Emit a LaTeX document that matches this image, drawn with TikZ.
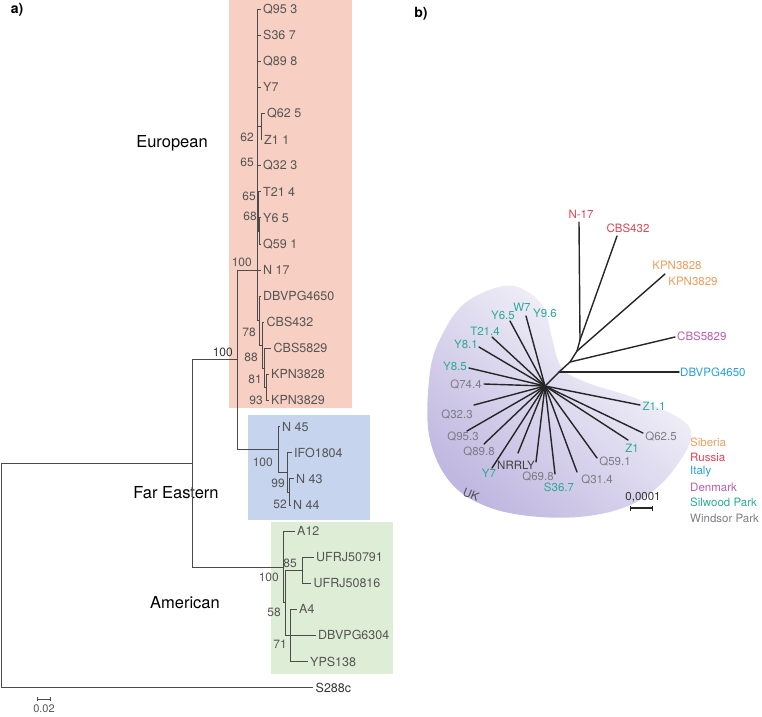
\documentclass[tikz,border=0pt]{standalone}
\usepackage{fontspec}
\setmainfont{TeX Gyre Heros}
\usetikzlibrary{arrows.meta}
\definecolor{europink}{RGB}{247,207,195}
\definecolor{fareblue}{RGB}{198,212,238}
\definecolor{amgreen}{RGB}{222,237,214}
\definecolor{treegray}{RGB}{75,75,75}
\definecolor{labgray}{RGB}{85,85,85}
\definecolor{siberia}{RGB}{229,160,95}
\definecolor{russia}{RGB}{220,70,85}
\definecolor{italy}{RGB}{40,160,215}
\definecolor{denmark}{RGB}{185,95,175}
\definecolor{silwood}{RGB}{45,170,150}
\definecolor{windsor}{RGB}{125,125,135}
\definecolor{ukhi}{RGB}{253,253,254}
\definecolor{uklo}{RGB}{192,184,224}

\begin{document}
\begin{tikzpicture}[
  x=1pt, y=-1pt,
  tree/.style={draw=treegray, line width=0.75pt},
  tip/.style={anchor=west, inner xsep=2.5pt, inner ysep=0pt, text=labgray, font=\fontsize{12.5}{13}\selectfont},
  boot/.style={anchor=east, inner sep=0pt, text=labgray, font=\fontsize{12}{12}\selectfont},
  clade/.style={inner sep=0pt, font=\fontsize{16.5}{17}\selectfont},
  branch/.style={draw=black!85, line width=1.4pt, line cap=round},
  strain/.style={inner sep=0pt, font=\fontsize{11.5}{12}\selectfont},
  panel/.style={inner sep=0pt, font=\bfseries\fontsize{14}{14}\selectfont}
]
\useasboundingbox (0,0) rectangle (762,716);

% panel a: clade boxes
\fill[europink] (229,0) rectangle (352,408);
\fill[fareblue] (248,415) rectangle (370,520);
\fill[amgreen] (271,522) rectangle (393,674);

\node[panel] (pa) at (17,10) {a)};
\node[panel] (pb) at (421,14) {b)};

\node[clade] (european) at (172,143) {European};
\node[clade] (fareastern) at (176,493) {Far Eastern};
\node[clade] (american) at (185,603) {American};

% internal nodes
\coordinate (root) at (1,575.5);
\coordinate (ig) at (192,463.3);
\coordinate (efe) at (237,359.8);
\coordinate (eu) at (257,270);
\coordinate (z) at (261,126.5);
\coordinate (q1) at (257.8,188.5);
\coordinate (q2) at (258.8,211.4);
\coordinate (q3) at (259.6,230.9);
\coordinate (ca) at (259,320.5);
\coordinate (cb) at (262,344.9);
\coordinate (cc) at (264.5,367.9);
\coordinate (cd) at (266.5,387.5);
\coordinate (fe) at (278,449.6);
\coordinate (fe2) at (287,472.3);
\coordinate (fe3) at (289.5,491.9);
\coordinate (am) at (283,566.9);
\coordinate (am2) at (285.5,602.8);
\coordinate (uf) at (302,570.2);
\coordinate (am3) at (290,635.4);

% tips
\node[tip] (Q953) at (260.5,9) {Q95 3};
\node[tip] (S367) at (260.5,35.1) {S36 7};
\node[tip] (Q898) at (260.5,61.2) {Q89 8};
\node[tip] (Y7) at (260.5,87.3) {Y7};
\node[tip] (Q625) at (264.5,113.4) {Q62 5};
\node[tip] (Z11) at (261.5,139.5) {Z1 1};
\node[tip] (Q323) at (260.5,165.6) {Q32 3};
\node[tip] (T214) at (260.5,191.7) {T21 4};
\node[tip] (Y65) at (260.5,217.8) {Y6 5};
\node[tip] (Q591) at (260.5,243.9) {Q59 1};
\node[tip] (N17) at (260.5,270) {N 17};
\node[tip] (DBVPG4650) at (260.5,296.1) {DBVPG4650};
\node[tip] (CBS432) at (264,322.2) {CBS432};
\node[tip] (CBS5829) at (271,348.3) {CBS5829};
\node[tip] (KPN3828) at (268.5,374.4) {KPN3828};
\node[tip] (KPN3829) at (268.5,400.5) {KPN3829};
\node[tip] (N45) at (279.5,426.6) {N 45};
\node[tip] (IFO1804) at (291.5,452.7) {IFO1804};
\node[tip] (N43) at (293.5,478.8) {N 43};
\node[tip] (N44) at (290.5,504.9) {N 44};
\node[tip] (A12) at (294.5,531) {A12};
\node[tip] (UFRJ50791) at (313.5,557.1) {UFRJ50791};
\node[tip] (UFRJ50816) at (311,583.2) {UFRJ50816};
\node[tip] (A4) at (296.5,609.3) {A4};
\node[tip] (DBVPG6304) at (315.5,635.4) {DBVPG6304};
\node[tip] (YPS138) at (307.5,661.5) {YPS138};
\node[tip, text=black!80] (S288c) at (313,687.6) {S288c};

% branches
\draw[tree] (root) |- (ig);
\draw[tree] (root) |- (S288c.west);
\draw[tree] (ig) |- (efe);
\draw[tree] (ig) |- (am);
\draw[tree] (efe) |- (eu);
\draw[tree] (efe) |- (fe);
\draw[tree] (eu) |- (Q953.west);
\draw[tree] (eu) |- (S367.west);
\draw[tree] (eu) |- (Q898.west);
\draw[tree] (eu) |- (Y7.west);
\draw[tree] (eu) |- (z);
\draw[tree] (z) |- (Q625.west);
\draw[tree] (z) |- (Z11.west);
\draw[tree] (eu) |- (q1);
\draw[tree] (q1) |- (Q323.west);
\draw[tree] (q1) |- (q2);
\draw[tree] (q2) |- (T214.west);
\draw[tree] (q2) |- (q3);
\draw[tree] (q3) |- (Y65.west);
\draw[tree] (q3) |- (Q591.west);
\draw[tree] (eu) |- (N17.west);
\draw[tree] (eu) |- (ca);
\draw[tree] (ca) |- (DBVPG4650.west);
\draw[tree] (ca) |- (cb);
\draw[tree] (cb) |- (CBS432.west);
\draw[tree] (cb) |- (cc);
\draw[tree] (cc) |- (CBS5829.west);
\draw[tree] (cc) |- (cd);
\draw[tree] (cd) |- (KPN3828.west);
\draw[tree] (cd) |- (KPN3829.west);
\draw[tree] (fe) |- (N45.west);
\draw[tree] (fe) |- (fe2);
\draw[tree] (fe2) |- (IFO1804.west);
\draw[tree] (fe2) |- (fe3);
\draw[tree] (fe3) |- (N43.west);
\draw[tree] (fe3) |- (N44.west);
\draw[tree] (am) |- (A12.west);
\draw[tree] (am) |- (am2);
\draw[tree] (am2) |- (uf);
\draw[tree] (uf) |- (UFRJ50791.west);
\draw[tree] (uf) |- (UFRJ50816.west);
\draw[tree] (am2) |- (am3);
\draw[tree] (am3) |- (A4.west);
\draw[tree] (am3) |- (DBVPG6304.west);
\draw[tree] (am3) |- (YPS138.west);

% bootstrap values
\node[boot] (b62) at (254,137) {62};
\node[boot] (b65a) at (254,162) {65};
\node[boot] (b65b) at (256,196) {65};
\node[boot] (b68) at (257,216) {68};
\node[boot] (b100eu) at (252,262) {100};
\node[boot] (b78) at (256,332) {78};
\node[boot] (b88) at (258,357) {88};
\node[boot] (b81) at (262,379) {81};
\node[boot] (b93) at (263,400) {93};
\node[boot, text=black!80] (b100efe) at (233,352) {100};
\node[boot] (b100fe) at (273,462) {100};
\node[boot] (b99) at (285,483) {99};
\node[boot] (b52) at (287,504) {52};
\node[boot] (b85) at (297,563) {85};
\node[boot] (b100am) at (279,577) {100};
\node[boot] (b58) at (281,612) {58};
\node[boot] (b71) at (287,644) {71};

% scale bar a
\coordinate (sba) at (37,699);
\coordinate (sbb) at (51,699);
\draw[tree, {Bar[width=4pt]}-{Bar[width=4pt]}] (sba) -- (sbb);
\node[inner sep=0pt, text=labgray, font=\fontsize{11}{11}\selectfont] (sbalabel) at (44,709) {0.02};

% panel b: UK region
\shade[top color=ukhi, bottom color=uklo, shading angle=-40]
  plot[smooth cycle, tension=0.6] coordinates {(503,286) (528,292) (545,310) (552,338) (562,368) (588,383) (640,400) (690,428) (675,468) (640,500) (595,515) (540,517) (488,507) (450,482) (429,435) (430,372) (442,335) (465,303)};

\coordinate (hub) at (545,386);
\coordinate (sp1) at (559,372);
\coordinate (sp2) at (570,362);
\coordinate (sp3) at (577,351);
\coordinate (sp4) at (580,340);
\draw[branch] (hub) -- (sp1) -- (sp2) -- (sp3) -- (sp4);

\coordinate (eN17) at (579,222);
\coordinate (eCBS432) at (617,236);
\coordinate (eKPN) at (665,274);
\coordinate (eCBS5829) at (675,337);
\coordinate (eDBVPG4650) at (679,372);
\draw[branch] (sp4) -- (eN17);
\draw[branch] (sp4) -- (eCBS432);
\draw[branch] (sp3) -- (eKPN);
\draw[branch] (sp2) -- (eCBS5829);
\draw[branch] (sp1) -- (eDBVPG4650);

\node[strain, text=russia] (lN17) at (581,214) {N-17};
\node[strain, text=russia] (lCBS432) at (628,228) {CBS432};
\node[strain, text=siberia] (lKPN3828) at (677,265) {KPN3828};
\node[strain, text=siberia] (lKPN3829) at (693,281) {KPN3829};
\node[strain, text=denmark, anchor=west] (lCBS5829) at (677,336) {CBS5829};
\node[strain, text=italy, anchor=west] (lDBVPG4650) at (680,372) {DBVPG4650};

% UK strains
\coordinate (eY81) at (479,347);
\coordinate (eT214) at (492,337);
\coordinate (eY65) at (510,321);
\coordinate (eW7) at (526,316);
\coordinate (eY85) at (469,368);
\coordinate (eQ744) at (484,384);
\coordinate (eQ323) at (474,405);
\coordinate (eQ953) at (467,431);
\coordinate (eQ898) at (484,444);
\coordinate (eY7) at (492,468);
\coordinate (eNRRLY) at (518,453);
\coordinate (eQ698) at (536,462);
\coordinate (eS367) at (555,474);
\coordinate (eQ314) at (577,472);
\coordinate (eQ591) at (597,458);
\coordinate (eZ1) at (628,440);
\coordinate (eQ625) at (643,433);
\coordinate (eZ11) at (640,405);
\draw[branch] (hub) -- (eY81);
\draw[branch] (hub) -- (eT214);
\draw[branch] (hub) -- (eY65);
\draw[branch] (hub) -- (eW7);
\draw[branch] (hub) -- (eY85);
\draw[branch] (hub) -- (eQ744);
\draw[branch] (hub) -- (eQ323);
\draw[branch] (hub) -- (eQ953);
\draw[branch] (hub) -- (eQ898);
\draw[branch] (hub) -- (eY7);
\draw[branch] (hub) -- (eNRRLY);
\draw[branch] (hub) -- (eQ698);
\draw[branch] (hub) -- (eS367);
\draw[branch] (hub) -- (eQ314);
\draw[branch] (hub) -- (eQ591);
\draw[branch] (hub) -- (eZ1);
\draw[branch] (hub) -- (eQ625);
\draw[branch] (hub) -- (eZ11);

\node[strain, text=silwood] (lY81) at (466,344) {Y8.1};
\node[strain, text=silwood] (lT214) at (485,331) {T21.4};
\node[strain, text=silwood] (lY65) at (503,315) {Y6.5};
\node[strain, text=silwood] (lW7) at (522,307) {W7};
\node[strain, text=silwood] (lY96) at (545,313) {Y9.6};
\node[strain, text=silwood] (lY85) at (455,366) {Y8.5};
\node[strain, text=windsor] (lQ744) at (466,385) {Q74.4};
\node[strain, text=windsor] (lQ323) at (457,415) {Q32.3};
\node[strain, text=windsor] (lQ953) at (463,437) {Q95.3};
\node[strain, text=windsor] (lQ898) at (479,452) {Q89.8};
\node[strain, text=silwood] (lY7) at (489,473) {Y7};
\node[strain, text=black!75] (lNRRLY) at (516,465) {NRRLY};
\node[strain, text=windsor] (lQ698) at (538,477) {Q69.8};
\node[strain, text=silwood] (lS367) at (559,487) {S36.7};
\node[strain, text=windsor] (lQ314) at (597,480) {Q31.4};
\node[strain, text=windsor] (lQ591) at (615,462) {Q59.1};
\node[strain, text=silwood] (lZ1) at (632,448) {Z1};
\node[strain, text=windsor] (lQ625) at (661,437) {Q62.5};
\node[strain, text=silwood] (lZ11) at (654,406) {Z1.1};
\node[strain, text=black!70, rotate=-22] (lUK) at (471,495) {UK};

% scale bar b
\coordinate (sbc) at (630,508);
\coordinate (sbd) at (653,508);
\draw[draw=black!85, line width=1.2pt, {Bar[width=5pt]}-{Bar[width=5pt]}] (sbc) -- (sbd);
\node[strain, text=black!80] (sbblabel) at (643,497) {0,0001};

% legend
\node[strain, text=siberia, anchor=west] (legsib) at (690,442) {Siberia};
\node[strain, text=russia, anchor=west] (legrus) at (690,457) {Russia};
\node[strain, text=italy, anchor=west] (legita) at (690,472) {Italy};
\node[strain, text=denmark, anchor=west] (legden) at (690,487) {Denmark};
\node[strain, text=silwood, anchor=west] (legsil) at (690,502) {Silwood Park};
\node[strain, text=windsor, anchor=west] (legwin) at (690,518) {Windsor Park};
\end{tikzpicture}
\end{document}
